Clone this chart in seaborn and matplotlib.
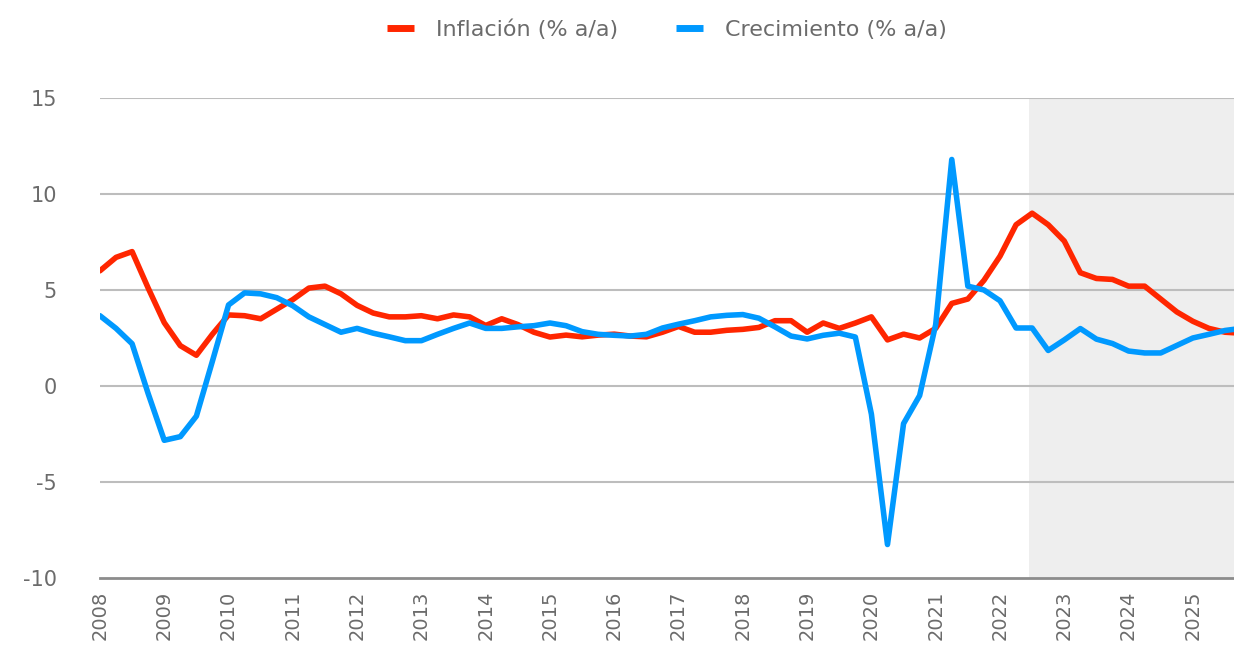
import numpy as np
import pandas as pd
import matplotlib
matplotlib.use("Agg")
import matplotlib.pyplot as plt
import seaborn as sns

# quarterly series, 2008Q1 .. 2025Q4 (last point is clipped at the right edge)
start_year = 2008
inflacion = [6.0, 6.7, 7.0, 5.1, 3.3, 2.1, 1.6, 2.7, 3.7, 3.66, 3.5, 4.0,
             4.5, 5.1, 5.2, 4.8, 4.2, 3.8, 3.6, 3.6, 3.66, 3.5, 3.7, 3.6,
             3.15, 3.5, 3.2, 2.8, 2.55, 2.65, 2.56, 2.65, 2.7, 2.6, 2.56, 2.8,
             3.1, 2.8, 2.8, 2.9, 2.95, 3.05, 3.4, 3.4, 2.8, 3.28, 3.0, 3.28,
             3.6, 2.4, 2.7, 2.5, 3.0, 4.3, 4.53, 5.5, 6.76, 8.4, 9.0, 8.4,
             7.55, 5.9, 5.6, 5.55, 5.2, 5.2, 4.53, 3.86, 3.37, 3.0, 2.8, 2.75]
crecimiento = [3.66, 3.0, 2.2, -0.4, -2.83, -2.64, -1.57, 1.3, 4.22, 4.85, 4.8, 4.6,
               4.18, 3.6, 3.2, 2.8, 3.0, 2.75, 2.56, 2.36, 2.36, 2.69, 3.0, 3.28,
               3.0, 3.0, 3.08, 3.14, 3.28, 3.14, 2.83, 2.69, 2.64, 2.6, 2.69, 3.02,
               3.22, 3.4, 3.6, 3.68, 3.72, 3.53, 3.08, 2.6, 2.45, 2.64, 2.75, 2.55,
               -1.47, -8.26, -1.96, -0.5, 3.2, 11.8, 5.2, 5.0, 4.44, 3.02, 3.02, 1.85,
               2.4, 2.99, 2.44, 2.21, 1.82, 1.72, 1.72, 2.11, 2.5, 2.69, 2.89, 3.0]
series_names = ["Inflación (% a/a)", "Crecimiento (% a/a)"]
year_ticks = list(range(2008, 2026))
forecast_start = 2022.45

x = start_year + np.arange(len(inflacion)) / 4
df = pd.DataFrame({
    "fecha": np.concatenate([x, x]),
    "valor": inflacion + crecimiento,
    "serie": [series_names[0]] * len(inflacion) + [series_names[1]] * len(crecimiento),
})

sns.set_style("white")
plt.rcParams["font.family"] = ["DejaVu Sans"]
plt.rcParams["axes.unicode_minus"] = False

fig = plt.figure(figsize=(12.34, 6.45), dpi=100)
ax = fig.add_axes([0.081, 0.104, 0.919, 0.744])

# shaded forecast period
ax.axvspan(forecast_start, 2030, color="#eeeeee", zorder=0, lw=0)

for yv in [-5, 0, 5, 10, 15]:
    ax.axhline(yv, color="#bdbdbd", lw=1.5, zorder=1)

sns.lineplot(data=df, x="fecha", y="valor", hue="serie", hue_order=series_names,
             palette=["#ff2600", "#0099ff"], linewidth=4.0, ax=ax, zorder=3)

ax.set_xlim(2008, 2025.64)
ax.set_ylim(-10, 15)
ax.set_yticks([-10, -5, 0, 5, 10, 15])
ax.set_xticks(year_ticks)
ax.set_xticklabels([str(y) for y in year_ticks], rotation=90)
ax.tick_params(axis="both", length=0, colors="#6b6b6b")
ax.tick_params(axis="y", labelsize=15, pad=31)
ax.tick_params(axis="x", labelsize=14, pad=9)
ax.set_xlabel("")
ax.set_ylabel("")

for side in ["top", "right", "left"]:
    ax.spines[side].set_visible(False)
ax.spines["bottom"].set_color("#8c8c8c")
ax.spines["bottom"].set_linewidth(2)

leg = ax.legend(loc="center", bbox_to_anchor=(0.5, 1.142), ncol=2, frameon=False,
                fontsize=16, handlelength=1.2, handletextpad=1.0, columnspacing=2.6)
for line in leg.get_lines():
    line.set_linewidth(5)
    line.set_solid_capstyle("butt")
for t in leg.get_texts():
    t.set_color("#6b6b6b")

fig.savefig("out.png", dpi=100)
